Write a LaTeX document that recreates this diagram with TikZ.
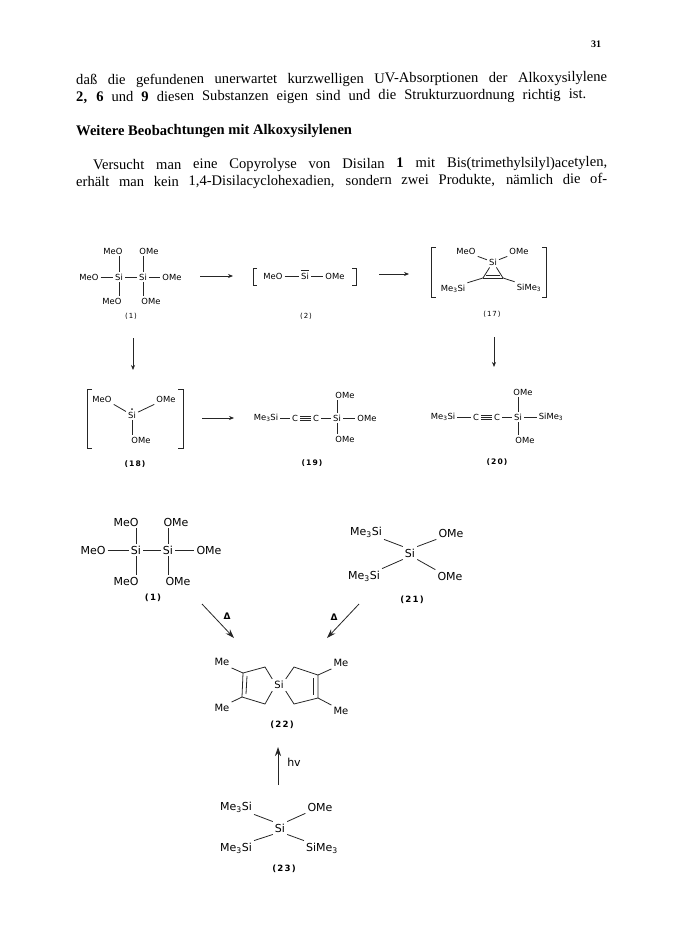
\documentclass[tikz,border=0pt]{standalone}
\usepackage{fontspec}
\setmainfont{Liberation Serif}
\setsansfont{DejaVu Sans}
\newfontfamily\chemlabel[LetterSpace=14]{DejaVu Sans}
\usetikzlibrary{arrows.meta}

\tikzset{
  chem/.style={inner sep=2pt, font=\sffamily\fontsize{8.4}{10}\selectfont},
  chemmid/.style={inner sep=2pt, font=\sffamily\fontsize{10}{12}\selectfont},
  chembig/.style={inner sep=2pt, font=\sffamily\fontsize{11}{13}\selectfont},
  cmpd/.style={inner sep=1pt, font=\chemlabel\fontsize{7}{9}\selectfont},
  cmpdbf/.style={inner sep=1pt, font=\chemlabel\bfseries\fontsize{7.6}{9}\selectfont},
  cmpdbig/.style={inner sep=1pt, font=\chemlabel\bfseries\fontsize{8.6}{10}\selectfont},
  line/.style={anchor=west, inner sep=0pt, rotate=0.3, font=\fontsize{14.6}{18}\selectfont},
  bond/.style={line width=0.8pt, black!85},
  bracket/.style={line width=0.8pt, black!85},
  rarrow/.style={line width=0.7pt, black!85, -{Stealth[length=5pt,width=4pt]}},
  rarrowbig/.style={line width=0.8pt, black!85, -{Stealth[length=9pt,width=6pt]}},
}

\begin{document}
\begin{tikzpicture}[x=1pt,y=-1pt]
\useasboundingbox (0,0) rectangle (680,933);

% text of the page
\node[anchor=west,inner sep=0pt,font=\bfseries\fontsize{10}{12}\selectfont] (page) at (591,44) {31};
\node[line] (l1) at (76,81) {\hbox to 531pt{daß die gefundenen unerwartet kurzwelligen UV-Absorptionen der Alkoxysilylene}};
\node[line] (l2) at (76,98) {\hbox to 510pt{\textbf{2, 6} und \textbf{9} diesen Substanzen eigen sind und die Strukturzuordnung richtig ist.}};
\node[line,font=\bfseries\fontsize{14.6}{18}\selectfont] (head) at (76,132) {Weitere Beobachtungen mit Alkoxysilylenen};
\node[line] (l3) at (93,166) {\hbox to 514pt{Versucht man eine Copyrolyse von Disilan \textbf{1} mit Bis(trimethylsilyl)acetylen,}};
\node[line] (l4) at (76,183) {\hbox to 531pt{erhält man kein 1,4-Disilacyclohexadien, sondern zwei Produkte, nämlich die of-}};

% (1)
\node[chem] (meoa) at (113,251) {MeO};
\node[chem] (omea) at (149,251) {OMe};
\node[chem] (meob) at (89,277) {MeO};
\node[chem] (sia) at (119,277) {Si};
\node[chem] (sib) at (143,277) {Si};
\node[chem] (omeb) at (172,277) {OMe};
\node[chem] (meoc) at (112,301) {MeO};
\node[chem] (omec) at (151,301) {OMe};
\node[cmpd] (lab1) at (131,316) {(1)};
\draw[bond] (meob) -- (sia);
\draw[bond] (sia) -- (sib);
\draw[bond] (sib) -- (omeb);
\draw[bond] (sia.north) -- (sia |- meoa.south);
\draw[bond] (sib.north) -- (sib |- omea.south);
\draw[bond] (sia.south) -- (sia |- meoc.north);
\draw[bond] (sib.south) -- (sib |- omec.north);

% (2)
\node[chem] (meod) at (273,276) {MeO};
\node[chem] (sic) at (305,276) {Si};
\node[chem] (omed) at (335,276) {OMe};
\node[cmpd] (lab2) at (306,316) {(2)};
\draw[bond] (meod) -- (sic);
\draw[bond] (sic) -- (omed);
\draw[bond] ([xshift=2pt]sic.north west) -- ([xshift=-2pt]sic.north east);
\draw[bracket] (257,268) -- (253,268) -- (253,285) -- (257,285);
\draw[bracket] (352,268) -- (356,268) -- (356,285) -- (352,285);

% (17)
\node[chem] (meoe) at (466,251) {MeO};
\node[chem] (omee) at (519,251) {OMe};
\node[chem] (sid) at (493,262) {Si};
\coordinate (cyca) at (483,278);
\coordinate (cycb) at (503,278);
\node[chem] (mea) at (453,289) {Me\textsubscript{3}Si};
\node[chem] (meb) at (529,288) {SiMe\textsubscript{3}};
\node[cmpd] (lab17) at (492,314) {(17)};
\draw[bond] (meoe.south east) -- (sid);
\draw[bond] (omee.south west) -- (sid);
\draw[bond] (sid) -- (cyca);
\draw[bond] (sid) -- (cycb);
\draw[bond,line width=1pt] (cyca) -- (cycb);
\draw[bond] ([xshift=3pt,yshift=2.5pt]cyca) -- ([xshift=-3pt,yshift=2.5pt]cycb);
\draw[bond] (mea.north east) -- (cyca);
\draw[bond] (cycb) -- (meb.north west);
\draw[bracket] (436,247) -- (431,247) -- (431,297) -- (436,297);
\draw[bracket] (542,247) -- (546,247) -- (546,297) -- (542,297);

% (18)
\node[chem] (meof) at (102,399) {MeO};
\node[chem] (omef) at (166,399) {OMe};
\node[chem] (sie) at (132,415) {Si};
\node[chem] (omeg) at (141,440) {OMe};
\node[cmpdbf] (lab18) at (135,464) {(18)};
\fill[black!85] ([yshift=0.5pt]sie.north) circle (1pt);
\draw[bond] (meof.south east) -- (sie);
\draw[bond] (omef.south west) -- (sie);
\draw[bond] (sie.south) -- (sie |- omeg.north);
\draw[bracket] (92,389) -- (87,389) -- (87,448) -- (92,448);
\draw[bracket] (178,389) -- (183,389) -- (183,448) -- (178,448);

% (19)
\node[chem] (mec) at (266,418) {Me\textsubscript{3}Si};
\node[chem] (ca) at (295,418) {C};
\node[chem] (cb) at (316,418) {C};
\node[chem] (sif) at (337,418) {Si};
\node[chem] (omeh) at (367,418) {OMe};
\node[chem] (omei) at (345,395) {OMe};
\node[chem] (omej) at (345,439) {OMe};
\node[cmpdbf] (lab19) at (312,463) {(19)};
\draw[bond] (mec) -- (ca);
\foreach \dy in {-1.8,0,1.8}
  \draw[bond,line width=0.6pt] ([yshift=\dy pt]ca.east) -- ([yshift=\dy pt]cb.west);
\draw[bond] (cb) -- (sif);
\draw[bond] (sif) -- (omeh);
\draw[bond] (sif.north) -- (sif |- omei.south);
\draw[bond] (sif.south) -- (sif |- omej.north);

% (20)
\node[chem] (med) at (443,417) {Me\textsubscript{3}Si};
\node[chem] (cc) at (476,417) {C};
\node[chem] (cd) at (497,417) {C};
\node[chem] (sig) at (518,417) {Si};
\node[chem] (mee) at (551,417) {SiMe\textsubscript{3}};
\node[chem] (omek) at (523,392) {OMe};
\node[chem] (omel) at (525,440) {OMe};
\node[cmpdbf] (lab20) at (497,462) {(20)};
\draw[bond] (med) -- (cc);
\foreach \dy in {-1.8,0,1.8}
  \draw[bond,line width=0.6pt] ([yshift=\dy pt]cc.east) -- ([yshift=\dy pt]cd.west);
\draw[bond] (cd) -- (sig);
\draw[bond] (sig) -- (mee);
\draw[bond] (sig.north) -- (sig |- omek.south);
\draw[bond] (sig.south) -- (sig |- omel.north);

% arrows of the upper scheme
\coordinate (aa) at (200,276);
\coordinate (ab) at (233,276);
\coordinate (ac) at (379,274);
\coordinate (ad) at (409,274);
\coordinate (ae) at (202,418);
\coordinate (af) at (234,418);
\coordinate (ag) at (133,338);
\coordinate (ah) at (133,370);
\coordinate (ai) at (494,337);
\coordinate (aj) at (494,367);
\draw[rarrow] (aa) -- (ab);
\draw[rarrow] (ac) -- (ad);
\draw[rarrow] (ae) -- (af);
\draw[rarrow] (ag) -- (ah);
\draw[rarrow] (ai) -- (aj);

% (1) again, larger
\node[chembig] (meom) at (126,522) {MeO};
\node[chembig] (omem) at (176,522) {OMe};
\node[chembig] (meon) at (93,550) {MeO};
\node[chembig] (sim) at (136,550) {Si};
\node[chembig] (sin) at (168,550) {Si};
\node[chembig] (omen) at (209,550) {OMe};
\node[chembig] (meoo) at (126,581) {MeO};
\node[chembig] (omeo) at (178,581) {OMe};
\node[cmpdbig] (laba) at (153,598) {(1)};
\draw[bond] (meon) -- (sim);
\draw[bond] (sim) -- (sin);
\draw[bond] (sin) -- (omen);
\draw[bond] (sim.north) -- (sim |- meom.south);
\draw[bond] (sin.north) -- (sin |- omem.south);
\draw[bond] (sim.south) -- (sim |- meoo.north);
\draw[bond] (sin.south) -- (sin |- omeo.north);

% (21)
\node[chembig] (mem) at (366,532) {Me\textsubscript{3}Si};
\node[chembig] (omep) at (451,533) {OMe};
\node[chembig] (sip) at (410,553) {Si};
\node[chembig] (men) at (364,576) {Me\textsubscript{3}Si};
\node[chembig] (omeq) at (450,576) {OMe};
\node[cmpdbig] (lab21) at (412,600) {(21)};
\draw[bond] (mem.south east) -- (sip.north west);
\draw[bond] (omep.south west) -- (sip.north east);
\draw[bond] (men.north east) -- (sip.south west);
\draw[bond] (omeq.north west) -- (sip.south east);

% (22)
\node[chemmid] (meq) at (222,662) {Me};
\node[chemmid] (mer) at (222,708) {Me};
\node[chemmid] (mes) at (341,663) {Me};
\node[chemmid] (met) at (341,711) {Me};
\node[chemmid] (siq) at (279,685) {Si};
\node[cmpdbig] (lab22) at (282,725) {(22)};
\coordinate (ra) at (243,673);
\coordinate (rb) at (242,697);
\coordinate (rc) at (265,667);
\coordinate (rd) at (265,704);
\coordinate (re) at (318,675);
\coordinate (rf) at (318,698);
\coordinate (rg) at (294,667);
\coordinate (rh) at (294,704);
\draw[bond] (meq.south east) -- (ra);
\draw[bond] (mer.north east) -- (rb);
\draw[bond] (mes.south west) -- (re);
\draw[bond] (met.north west) -- (rf);
\draw[bond] (siq.north west) -- (rc) -- (ra) -- (rb) -- (rd) -- (siq.south west);
\draw[bond] (siq.north east) -- (rg) -- (re) -- (rf) -- (rh) -- (siq.south east);
\draw[bond] ([xshift=4pt,yshift=-3pt]ra) -- ([xshift=4pt,yshift=3pt]rb);
\draw[bond] ([xshift=-5pt,yshift=-3pt]re) -- ([xshift=-5pt,yshift=3pt]rf);

% (23)
\node[chembig] (meu) at (236,807) {Me\textsubscript{3}Si};
\node[chembig] (omeu) at (320,807) {OMe};
\node[chembig] (siu) at (280,828) {Si};
\node[chembig] (mev) at (236,848) {Me\textsubscript{3}Si};
\node[chembig] (mew) at (322,848) {SiMe\textsubscript{3}};
\node[cmpdbig] (lab23) at (284,869) {(23)};
\draw[bond] (meu.south east) -- (siu.north west);
\draw[bond] (omeu.south west) -- (siu.north east);
\draw[bond] (mev.north east) -- (siu.south west);
\draw[bond] (mew.north west) -- (siu.south east);

% arrows of the lower scheme
\coordinate (ba) at (202,604);
\coordinate (bb) at (234,638);
\coordinate (bc) at (359,604);
\coordinate (bd) at (327,638);
\coordinate (be) at (278,785);
\coordinate (bf) at (278,747);
\draw[rarrowbig] (ba) -- (bb);
\draw[rarrowbig] (bc) -- (bd);
\draw[rarrowbig] (be) -- (bf);
\node[chemmid,font=\sffamily\bfseries\fontsize{9}{11}\selectfont] (dela) at (227,616) {Δ};
\node[chemmid,font=\sffamily\bfseries\fontsize{9}{11}\selectfont] (delb) at (334,617) {Δ};
\node[chembig] (hv) at (294,762) {hv};
\end{tikzpicture}
\end{document}
